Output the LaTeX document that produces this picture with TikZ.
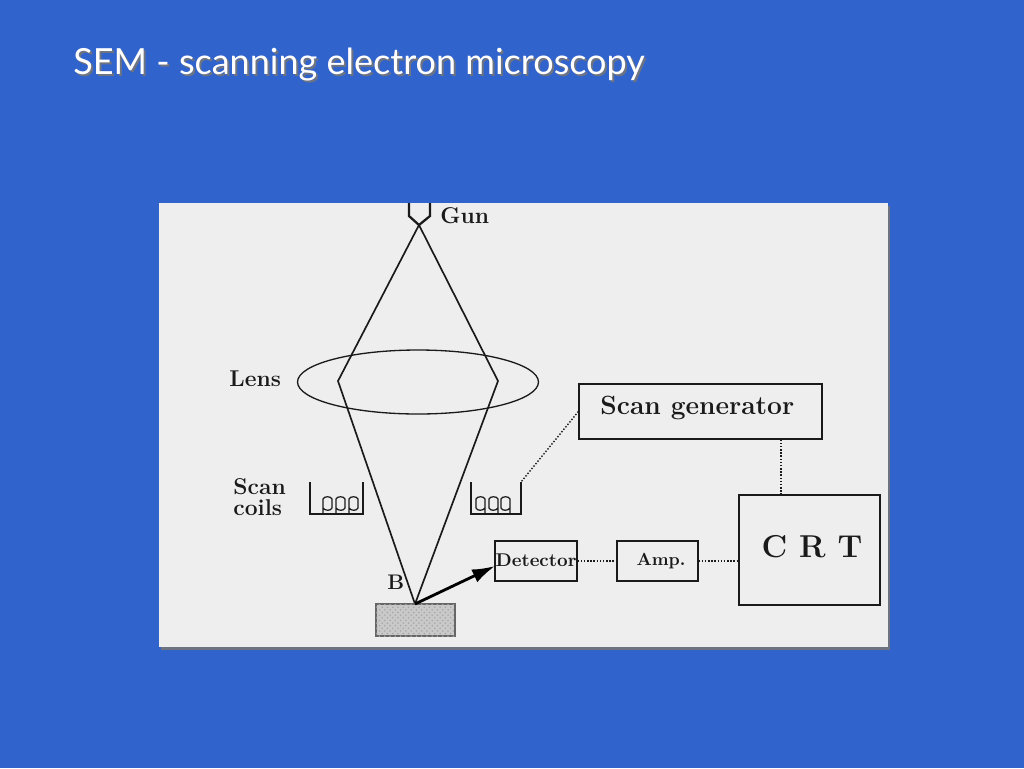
\documentclass[tikz,border=0pt]{standalone}
\usepackage{fontspec}
\usepackage{xcolor}
\usetikzlibrary{
	arrows.meta,
	patterns,
	shapes.geometric
}
\newfontfamily\titlefont{Lato}
\definecolor{slideblue}{HTML}{3163CC}
\definecolor{panelgray}{HTML}{EEEEEE}
\definecolor{shadowgray}{HTML}{6E7380}
\definecolor{inkblack}{HTML}{1A1A1A}
\newcommand{\inkfont}[2]{\bfseries\fontsize{#1}{#1}\selectfont\addfontfeature{LetterSpace=#2}}
\tikzset{
	beam/.style={draw=inkblack, line width=0.95pt, line join=miter},
	wire/.style={draw=inkblack, line width=0.7pt},
	link/.style={draw=inkblack, line width=0.8pt, densely dotted},
	boxnode/.style={draw=inkblack, line width=0.75pt, rectangle, inner sep=0pt},
	labeltext/.style={text=inkblack, inner sep=0pt, font=\inkfont{13}{5}, align=left}
}
\begin{document}
\begin{tikzpicture}[x=0.02cm, y=-0.02cm]
		\useasboundingbox (0,0) rectangle (1024,768);
		\fill[slideblue] (0,0) rectangle (1024,768);
		
		% title
		\node[text=shadowgray, font=\titlefont\fontsize{20.5}{20.5}\selectfont, anchor=west, inner sep=0pt] (titleback) at (75,67) {SEM - scanning electron microscopy};
		\node[text=white, font=\titlefont\fontsize{20.5}{20.5}\selectfont, anchor=west, inner sep=0pt] (title) at (73,65) {SEM - scanning electron microscopy};
		
		% panel
		\fill[shadowgray] (161,206) rectangle (890,650);
		\fill[panelgray] (159,203) rectangle (888,647);
		
		% beam points
		\coordinate (guntip) at (419,225);
		\coordinate (lensleft) at (338,381);
		\coordinate (lensright) at (498,381);
		\coordinate (spot) at (415,604);
		\coordinate (coiltop) at (521,482);
		\coordinate (detport) at (495,566);
		
		% gun
		\draw[beam, line width=1.3pt] (409,203) -- (409,216) -- (guntip) -- (430,216) -- (430,203);
		\node[labeltext, anchor=west] (gun) at (440,216) {Gun};
		
		% lens and beam
		\node[draw=inkblack, line width=0.75pt, ellipse, inner sep=0pt, minimum width=4.82cm, minimum height=1.28cm] (lens) at (418,382) {};
		\node[labeltext, anchor=west] (lenslabel) at (229,379) {Lens};
		\draw[beam] (guntip) -- (lensleft) -- (spot);
		\draw[beam] (guntip) -- (lensright) -- (spot);
		\node[labeltext, anchor=west, font=\inkfont{12}{0}] (blabel) at (387,582) {B};
		
		% sample
		\node[draw=gray!80!black, line width=0.7pt, rectangle, inner sep=0pt, fill=gray!42, minimum width=1.58cm, minimum height=0.64cm, postaction={pattern=crosshatch dots, pattern color=gray!70}] (sample) at (415.5,620) {};
		
		% scan coils
		\node[labeltext, anchor=west] (scanword) at (233,487) {Scan};
		\node[labeltext, anchor=west] (coilsword) at (233,508) {coils};
		\draw[wire] (310,482) -- (310,514) -- (363,514) -- (363,482);
		\foreach \x in {323,336,349}
			\draw[wire] (\x,514) -- (\x,499) .. controls (\x+1,496) and (\x+8,496) .. (\x+9,499) -- (\x+9,508) .. controls (\x+8,511) and (\x+2,511) .. (\x,508);
		\draw[wire] (471,482) -- (471,514) -- (521,514) -- (coiltop);
		\foreach \x in {485,498,510}
			\draw[wire] (\x,514) -- (\x,499) .. controls (\x-1,496) and (\x-8,496) .. (\x-9,499) -- (\x-9,508) .. controls (\x-8,511) and (\x-2,511) .. (\x,508);
		
		% boxes
		\node[boxnode, minimum width=4.86cm, minimum height=1.1cm] (scangen) at (700.5,411.5) {};
		\node[labeltext, anchor=west, font=\inkfont{15}{18}] (scanlabel) at (600,408) {Scan generator};
		\node[boxnode, minimum width=2.82cm, minimum height=2.2cm] (crt) at (809.5,550) {};
		\node[labeltext, font=\inkfont{18}{30}] (crtlabel) at (812,547) {C R T};
		\node[boxnode, minimum width=1.64cm, minimum height=0.8cm] (detector) at (536,561) {};
		\node[labeltext, font=\inkfont{10.5}{4}] (detlabel) at (536,560) {Detector};
		\node[boxnode, minimum width=1.62cm, minimum height=0.8cm] (amp) at (657.5,561) {};
		\node[labeltext, font=\inkfont{10}{4}] (amplabel) at (661,561) {Amp.};
		
		% links
		\coordinate (crtport) at (781,495);
		\draw[link] (scangen.west) -- (coiltop);
		\draw[link] (scangen.south -| crtport) -- (crtport);
		\draw[link] (detector) -- (amp);
		\draw[link] (amp) -- (crt.west |- amp);
		\draw[-{Latex[length=13pt,width=8pt]}, draw=black, line width=1.6pt] (spot) -- (detport);
	\end{tikzpicture}
\end{document}
